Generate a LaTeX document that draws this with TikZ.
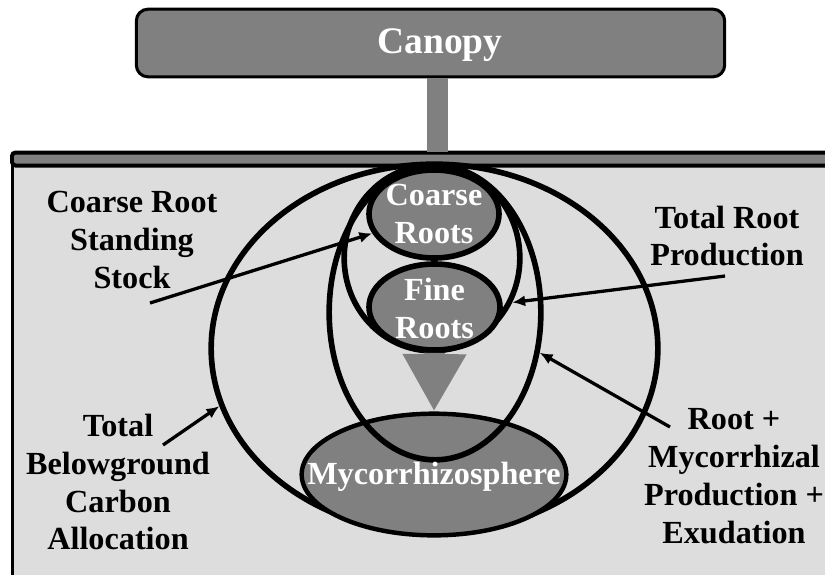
\documentclass[tikz,border=0pt]{standalone}
\usepackage{fontspec}
\setmainfont{Liberation Serif}
\usetikzlibrary{positioning,shapes.geometric,arrows.meta}
\definecolor{midgray}{HTML}{808080}
\definecolor{soilgray}{HTML}{DDDDDD}
\tikzset{
	ring/.style={ellipse, draw=black, line width=4.8pt, inner sep=0pt},
	blob/.style={ring, fill=midgray},
	lbl/.style={font=\bfseries\fontsize{27.5}{32.4}\selectfont, align=center, text=black},
	wlbl/.style={lbl, text=white},
	ptr/.style={line width=2.8pt, -{Latex[length=11pt,width=9.5pt]}},
}

\begin{document}
\begin{tikzpicture}[x=0.03cm, y=-0.03cm]
	\useasboundingbox (0,0) rectangle (825,574);
	% soil and ground line
	\fill[soilgray] (12,165) rectangle (840,590);
	\draw[line width=1.8pt] (12.5,158) -- (12.5,590);
	\draw[fill=midgray, line width=3.4pt, rounded corners=3pt] (12,152.5) rectangle (850,165.5);
	% canopy
	\node[draw, fill=midgray, line width=2.6pt, rounded corners=10pt,
		minimum width=17.65cm, minimum height=2.03cm] (canopy) at (430.5,43) {};
	\node[wlbl, font=\bfseries\fontsize{32}{38}\selectfont] (canopytxt) at (440,45) {Canopy};
	\coordinate (gnd) at (437.5,152);
	\draw[midgray, line width=17.9pt] (canopy.south -| gnd) -- (gnd);
	% nested pools
	\node[ring, minimum width=13.4cm, minimum height=11.06cm] (tbca) at (434.5,348.5) {};
	\node[blob, line width=3.8pt, minimum width=7.94cm, minimum height=3.65cm] (myco) at (434,474.5) {};
	\node[ring, minimum width=6.35cm, minimum height=8.84cm] (rmpe) at (435,312.5) {};
	\node[ring, minimum width=5.27cm, minimum height=5.57cm] (trp) at (432,258) {};
	\node[blob, minimum width=3.9cm, minimum height=2.64cm] (coarse) at (434,214) {};
	\node[blob, minimum width=3.93cm, minimum height=2.58cm] (fine) at (434.5,307) {};
	\draw[midgray, line width=17.5pt, -{Triangle[length=49pt,width=51pt]}] (fine.south) -- (myco.north);
	\node[wlbl] (coarsetxt) at (434,214) {Coarse\\Roots};
	\node[wlbl] (finetxt) at (434.5,308) {Fine\\Roots};
	\node[wlbl] (mycotxt) at (434,477) {Mycorrhizosphere};
	% outer labels
	\node[lbl] (crsslbl) at (132,240) {Coarse Root\\Standing\\Stock};
	\node[lbl] (trplbl) at (727,236) {Total Root\\Production};
	\node[lbl] (rmpelbl) at (734,476) {Root +\\Mycorrhizal\\Production +\\Exudation};
	\node[lbl] (tbcalbl) at (118,482) {Total\\Belowground\\Carbon\\Allocation};
	\coordinate (crssend) at (150,303);
	\coordinate (trpend) at (725,276);
	\coordinate (rmpeend) at (670,427);
	\coordinate (tbcaend) at (163,445);
	\draw[ptr] (crssend) -- (coarse);
	\draw[ptr] (trpend) -- (trp.-29);
	\draw[ptr] (rmpeend) -- (rmpe.-21);
	\draw[ptr] (tbcaend) -- (tbca.195);
\end{tikzpicture}
\end{document}
